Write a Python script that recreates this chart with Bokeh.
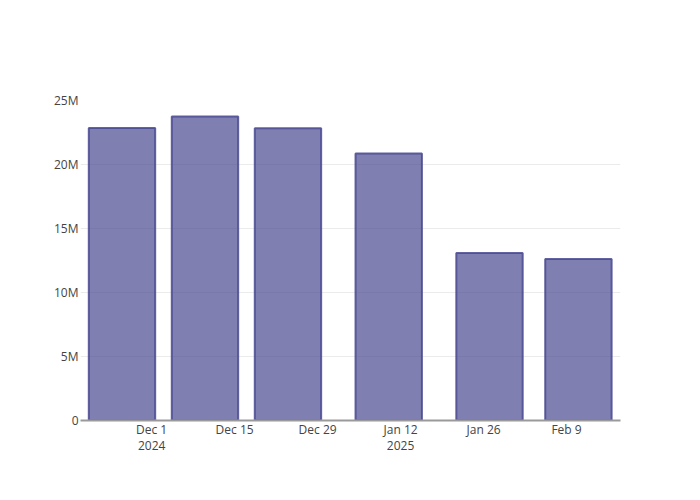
import datetime as dt
from bokeh.plotting import figure
from bokeh.models import FixedTicker, Range1d, ColumnDataSource
from bokeh.embed import file_html
from bokeh.resources import INLINE

dates = ["2024-11-26", "2024-12-10", "2024-12-24", "2025-01-10", "2025-01-27", "2025-02-11"]
values = [22.87e6, 23.77e6, 22.86e6, 20.88e6, 13.10e6, 12.63e6]
x_tick_dates = ["2024-12-01", "2024-12-15", "2024-12-29", "2025-01-12", "2025-01-26", "2025-02-09"]
x_tick_labels = ["Dec 1\n2024", "Dec 15", "Dec 29", "Jan 12\n2025", "Jan 26", "Feb 9"]
y_ticks = [0, 5e6, 10e6, 15e6, 20e6, 25e6]
y_tick_labels = ["0", "5M", "10M", "15M", "20M", "25M"]
grid_ticks = [5e6, 10e6, 15e6, 20e6]

def ms(s):
    d = dt.datetime.strptime(s, "%Y-%m-%d").replace(tzinfo=dt.timezone.utc)
    return d.timestamp() * 1000.0

DAY = 86400000.0
xs = [ms(d) for d in dates]
bar_width = 14 * DAY * 0.8

src = ColumnDataSource(dict(x=xs, top=values))

p = figure(width=684, height=484, frame_width=540, frame_height=320,
           output_backend="svg", toolbar_location=None,
           x_axis_type="datetime",
           min_border_left=80, min_border_right=64, min_border_top=100, min_border_bottom=64)
p.x_range = Range1d(ms("2024-11-19"), ms("2025-02-18") + 0.1 * DAY)
p.y_range = Range1d(0, 25.03e6)

p.vbar(x="x", top="top", bottom=0, width=bar_width, source=src,
       fill_color="#484890", fill_alpha=0.7, line_color="#484890", line_alpha=0.85, line_width=2)

p.outline_line_color = None
p.background_fill_color = "white"
p.border_fill_color = "white"

p.xgrid.grid_line_color = None
p.ygrid.ticker = FixedTicker(ticks=grid_ticks)
p.ygrid.grid_line_color = "#ebebeb"
p.ygrid.grid_line_width = 1

tick_ms = [ms(d) for d in x_tick_dates]
p.xaxis.ticker = FixedTicker(ticks=tick_ms)
p.xaxis.major_label_overrides = {t: l for t, l in zip(tick_ms, x_tick_labels)}
p.xaxis.axis_line_color = "#9a9a9a"
p.xaxis.axis_line_width = 2
p.xaxis.major_tick_line_color = None
p.xaxis.minor_tick_line_color = None
p.xaxis.major_tick_out = 0
p.xaxis.major_label_standoff = 0
p.xaxis.major_label_text_line_height = 0.98

p.yaxis.ticker = FixedTicker(ticks=y_ticks)
p.yaxis.major_label_overrides = {t: l for t, l in zip(y_ticks, y_tick_labels)}
p.yaxis.axis_line_color = None
p.yaxis.major_tick_line_color = None
p.yaxis.minor_tick_line_color = None
p.yaxis.major_tick_out = 0
p.yaxis.major_label_standoff = 2

for ax in (p.xaxis, p.yaxis):
    ax.major_label_text_font = "Open Sans"
    ax.major_label_text_font_size = "12px"
    ax.major_label_text_color = "#444444"

open("out.html", "w").write(file_html(p, INLINE))
